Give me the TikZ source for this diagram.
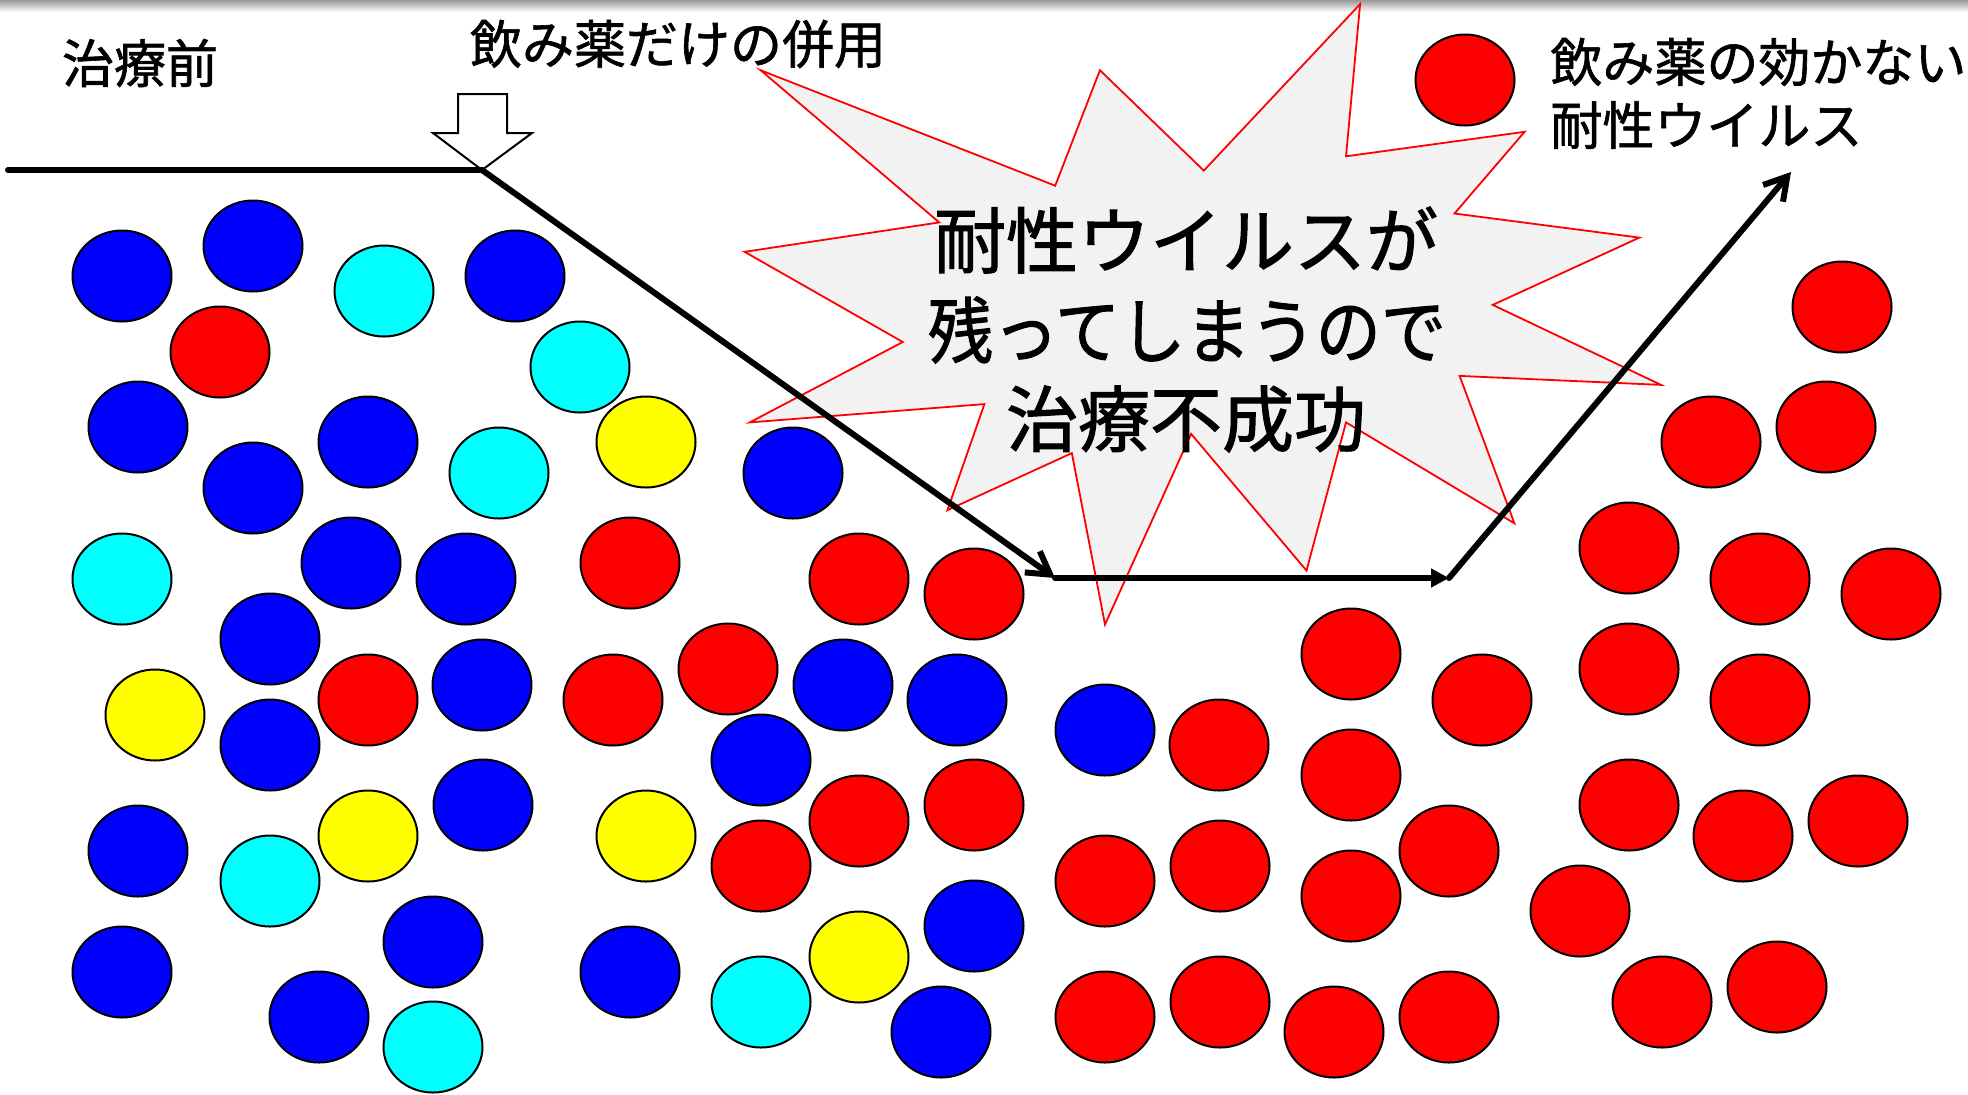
\documentclass[tikz,border=0pt]{standalone}
\usepackage{fontspec}
\setmainfont{Noto Sans CJK JP}[FakeBold=1.2]
\newfontfamily\heavyjp{Noto Sans CJK JP}[FakeBold=1.4]
\usetikzlibrary{arrows.meta}
\definecolor{burstgray}{HTML}{F2F2F2}
\definecolor{vblue}{HTML}{0000FF}
\definecolor{vcyan}{HTML}{00FFFF}
\definecolor{vyellow}{HTML}{FFFF00}
\definecolor{vred}{HTML}{FF0000}
\newcommand\virusdot[3]{\path[#1] (#2,#3) ellipse [x radius=24.75pt, y radius=22.75pt];}
\begin{document}
\begin{tikzpicture}[x=0.5pt,y=-0.5pt,
  vir/.style={draw=black,line width=1pt},
  bl/.style={vir,fill=vblue},
  cy/.style={vir,fill=vcyan},
  ye/.style={vir,fill=vyellow},
  rd/.style={vir,fill=vred},
  burst/.style={draw=vred,line width=0.9pt,fill=burstgray,line join=miter},
  flow/.style={draw=black,line width=3pt,line cap=round},
  barb/.style={-{Straight Barb[length=11pt,width=13pt]}},
  tri/.style={-{Triangle[length=9pt,width=9pt]}},
  small/.style={inner sep=0pt,font=\fontsize{26}{30}\selectfont},
  big/.style={inner sep=0pt,font=\heavyjp\fontsize{36}{42}\selectfont}]
\useasboundingbox (0,0) rectangle (1968,1094);
\fill[white] (0,0) rectangle (1968,1094);
\shade[top color=black!40,bottom color=white] (0,0) rectangle (1968,12);

% viruses: blue
\foreach \p in {(122,276),(253,246),(515,276),(138,427),(253,488),(368,442),(351,563),(466,579),(270,639),(482,685),(270,745),(793,473),(843,685),(957,700),(761,760),(1105,730),(138,851),(483,805),(122,972),(433,942),(319,1017),(630,972),(974,926),(941,1032)}
  \path[bl] \p ellipse [x radius=24.75pt, y radius=22.75pt];
% cyan
\foreach \p in {(384,291),(580,367),(499,473),(122,579),(270,881),(433,1047),(761,1002)}
  \path[cy] \p ellipse [x radius=24.75pt, y radius=22.75pt];
% yellow
\foreach \p in {(646,442),(155,715),(368,836),(646,836),(859,957)}
  \path[ye] \p ellipse [x radius=24.75pt, y radius=22.75pt];
% red
\foreach \p in {(220,352),(630,563),(859,579),(974,594),(613,700),(728,669),(368,700),(761,866),(859,821),(974,805),
  (1219,745),(1351,654),(1482,700),(1351,775),(1105,881),(1220,866),(1351,896),(1449,851),(1105,1017),(1220,1002),(1334,1032),(1449,1017),
  (1842,307),(1711,442),(1826,427),(1629,548),(1760,579),(1891,594),(1629,669),(1760,700),(1629,805),(1743,836),(1858,821),(1580,911),(1662,1002),(1777,987)}
  \path[rd] \p ellipse [x radius=24.75pt, y radius=22.75pt];
% legend dot
\virusdot{rd}{1465}{80}

% starburst
\path[burst] (760.6,70.2) -- (1055.2,185.7) -- (1099.9,70.2) -- (1203.8,170.6) -- (1360.1,4.1) -- (1346.0,156.3)
  -- (1524.6,131.8) -- (1454.5,213.5) -- (1639.4,237.6) -- (1492.7,304.9) -- (1661.1,384.9) -- (1459.6,375.9)
  -- (1514.4,523.3) -- (1346.0,422.4) -- (1306.5,570.6) -- (1191.1,433.9) -- (1105.0,624.5) -- (1071.8,453.1)
  -- (947.4,510.2) -- (984.4,404.1) -- (749.7,422.4) -- (902.8,342.0) -- (744.6,251.8) -- (939.2,222.4) -- cycle;

% block arrow
\path[draw=black,line width=1pt,fill=white,line join=miter] (458,94) -- (507,94) -- (507,133) -- (532,133) -- (482,170) -- (433,133) -- (458,133) -- cycle;

% flow line
\coordinate (p0) at (8,170);
\coordinate (p1) at (482,170);
\coordinate (p2) at (1055,578);
\coordinate (p3) at (1449,578);
\coordinate (p4) at (1791,172);
\draw[flow] (p0) -- (p1);
\draw[flow,barb] (p1) -- (p2);
\draw[flow,tri] (p2) -- (p3);
\draw[flow,barb] (p3) -- (p4);

% texts
\node[small] (before) at (140,63) {治療前};
\node[small] (combo) at (678,44) {飲み薬だけの併用};
\node[small,anchor=west] (leg1) at (1550,62) {飲み薬の効かない};
\node[small,anchor=west] (leg2) at (1550,125) {耐性ウイルス};
\node[big] (s1) at (1186,240) {耐性ウイルスが};
\node[big] (s2) at (1187,330) {\scalebox{0.905}[1]{残ってしまうので}};
\node[big] (s3) at (1186,419) {治療不成功};
\end{tikzpicture}
\end{document}
